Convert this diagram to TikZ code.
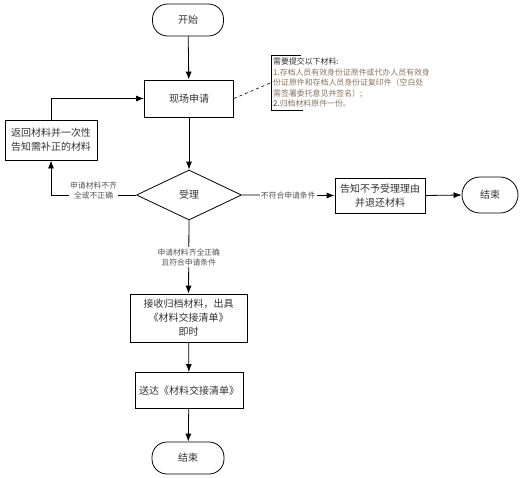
\documentclass[tikz,border=0pt]{standalone}
\usepackage{fontspec}
\setmainfont{Noto Sans CJK SC}
\usetikzlibrary{shapes.geometric, arrows.meta}
\definecolor{boxtext}{HTML}{333333}
\definecolor{lbltext}{HTML}{555555}
\definecolor{notetext}{HTML}{8A7560}
\definecolor{notenum}{HTML}{B0602A}

\begin{document}
\begin{tikzpicture}[x=1pt, y=-1pt,
  box/.style={draw, line width=0.8pt, align=center, text=boxtext, inner sep=2pt, font=\fontsize{10}{14}\selectfont},
  term/.style={box, rounded corners=15pt},
  lbl/.style={fill=white, align=center, text=lbltext, inner sep=1pt, font=\fontsize{7.8}{10}\selectfont},
  arr/.style={line width=0.8pt, -{Latex[length=8pt,width=6pt]}}]
\useasboundingbox (0,0) rectangle (527,477);

\node[term, minimum width=71pt, minimum height=32pt] (start) at (188,20) {开始};
\node[box, minimum width=89pt, minimum height=37pt] (apply) at (189,98.5) {现场申请};
\node[draw, diamond, line width=0.8pt, minimum width=105pt, minimum height=50pt, inner sep=0pt, text=boxtext, font=\fontsize{10}{14}\selectfont] (decide) at (189,195) {受理};
\node[box, minimum width=92pt, minimum height=40pt] (back) at (51,140) {返回材料并一次性\\告知需补正的材料};
\node[box, minimum width=90pt, minimum height=35pt] (reject) at (380,195.5) {告知不予受理理由\\并退还材料};
\node[term, rounded corners=18pt, minimum width=56pt, minimum height=36pt] (endright) at (490,195) {结束};
\node[box, minimum width=117pt, minimum height=48pt] (accept) at (188.5,318) {接收归档材料，出具\\《材料交接清单》\\即时};
\node[box, minimum width=108pt, minimum height=36pt] (deliver) at (189,390.5) {送达《材料交接清单》};
\node[term, minimum width=72pt, minimum height=32pt] (endbottom) at (188,458) {结束};

\node[anchor=north west, align=left, inner xsep=2pt, inner ysep=1.5pt, minimum height=55pt, text=notetext, font=\fontsize{7.9}{10.5}\selectfont] (note) at (271,55)
  {\textcolor{boxtext}{需要提交以下材料:}\\
   \textcolor{notenum}{1.}存档人员有效身份证原件或代办人员有效身\\
   份证原件和存档人员身份证复印件（空白处\\
   需签署委托意见并签名）;\\
   \textcolor{boxtext}{2.}归档材料原件一份。};
\draw[line width=0.8pt] ([xshift=30pt]note.north west) -- (note.north west) -- (note.south west) -- ([xshift=32pt]note.south west);
\draw[dashed, line width=0.6pt] (apply.east) -- (note.west);

\draw[arr] (start) -- (apply);
\draw[arr] (apply) -- (decide);
\draw[arr] (decide.west) -| (back.south) node[lbl, pos=0.25, yshift=4pt] (lbllack) {申请材料不齐\\全或不正确};
\draw[arr] (back.north) |- (apply.west);
\draw[arr] (decide.east) -- (reject.west) node[lbl, midway] (lblunfit) {不符合申请条件};
\draw[arr] (reject.east) -- (endright.west);
\draw[arr] (decide.south) -- (accept.north) node[lbl, midway] (lblok) {申请材料齐全正确\\且符合申请条件};
\draw[arr] (accept) -- (deliver);
\draw[arr] (deliver) -- (endbottom);
\end{tikzpicture}
\end{document}
